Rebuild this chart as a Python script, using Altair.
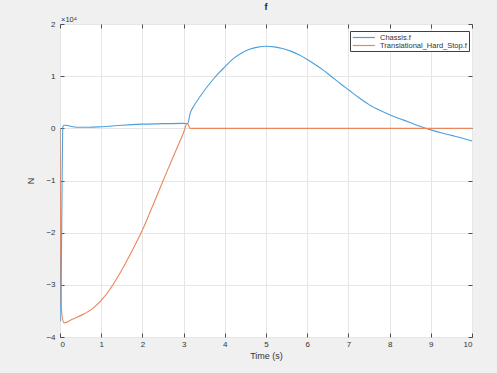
import altair as alt
import pandas as pd

# Values in units of 1e4 N (axis shows x10^4)
t_chassis = [0, 0.015, 0.07, 0.1, 0.15, 0.25, 0.4, 0.7, 1.0, 1.5, 2.0, 2.5, 3.0, 3.1,
             3.16, 3.25, 3.4, 3.55, 3.7, 3.85, 4.0, 4.2, 4.4, 4.6, 4.8, 5.0, 5.2, 5.4,
             5.6, 5.8, 6.0, 6.2, 6.4, 6.6, 6.8, 7.0, 7.25, 7.5, 7.75, 8.0, 8.25, 8.5,
             8.75, 9.0, 9.25, 9.5, 9.75, 10]
f_chassis = [0, -3.70, 0.03, 0.06, 0.06, 0.04, 0.02, 0.02, 0.03, 0.06, 0.08, 0.09, 0.095, 0.09,
             0.29, 0.43, 0.61, 0.773, 0.922, 1.056, 1.176, 1.33, 1.44, 1.515, 1.557, 1.574, 1.562, 1.53,
             1.48, 1.41, 1.32, 1.22, 1.11, 0.985, 0.86, 0.74, 0.59, 0.455, 0.35, 0.26, 0.185, 0.11,
             0.035, -0.03, -0.085, -0.135, -0.185, -0.24]

t_stop = [0, 0.01, 0.03, 0.05, 0.1, 0.3, 0.6, 0.8, 1.0, 1.2, 1.4, 1.6, 1.8, 2.0, 2.2,
          2.4, 2.6, 2.8, 3.0, 3.09, 3.16, 10]
f_stop = [0, -1.5, -3.3, -3.6, -3.73, -3.66, -3.55, -3.45, -3.3, -3.1, -2.85, -2.57, -2.27,
          -1.95, -1.58, -1.2, -0.82, -0.45, -0.08, 0.1, 0, 0]

series_names = ["Chassis.f", "Translational_Hard_Stop.f"]
series_colors = ["#4c9fdc", "#ea865c"]
x_ticks = [0, 1, 2, 3, 4, 5, 6, 7, 8, 9, 10]
y_ticks = [-4, -3, -2, -1, 0, 1, 2]

rows = []
for i, (t, f) in enumerate(zip(t_chassis, f_chassis)):
    rows.append({"series": series_names[0], "t": t, "f": f, "i": i})
for i, (t, f) in enumerate(zip(t_stop, f_stop)):
    rows.append({"series": series_names[1], "t": t, "f": f, "i": i})
df = pd.DataFrame(rows)

FONT = "Liberation Sans"
TXT = "#333333"

xscale = alt.Scale(domain=[0, 10], nice=False, zero=False)
yscale = alt.Scale(domain=[-4, 2], nice=False, zero=False)

lines = alt.Chart(df).mark_line(strokeWidth=1.1, clip=True, interpolate="monotone").encode(
    x=alt.X("t:Q", scale=xscale,
            axis=alt.Axis(title="Time (s)", values=x_ticks, orient="bottom", offset=-4,
                          tickSize=4, tickColor="#4d4d4d", domain=False, grid=True,
                          gridColor="#e6e6e6", labelPadding=3, titlePadding=3,
                          labelFontSize=8, titleFontSize=9, labelColor=TXT, titleColor=TXT,
                          titleFontWeight="normal", labelFont=FONT, titleFont=FONT)),
    y=alt.Y("f:Q", scale=yscale,
            axis=alt.Axis(title="N", values=y_ticks, orient="left", offset=-4,
                          tickSize=4, tickColor="#4d4d4d", domain=False, grid=True,
                          gridColor="#e6e6e6", labelPadding=5, titlePadding=10,
                          labelFontSize=8, titleFontSize=9, labelColor=TXT, titleColor=TXT,
                          titleFontWeight="normal", labelFont=FONT, titleFont=FONT)),
    color=alt.Color("series:N", scale=alt.Scale(domain=series_names, range=series_colors),
                    legend=alt.Legend(title=None, orient="none", legendX=290, legendY=7,
                                      padding=2, rowPadding=0, fillColor="white",
                                      strokeColor="#404040", symbolType="M-1,0H5",
                                      symbolSize=54, symbolStrokeWidth=1.2,
                                      labelOffset=19, labelFontSize=7.5, labelFont=FONT,
                                      labelColor=TXT)),
    order="i:Q",
)

frame_axes = alt.Chart(df).mark_line(opacity=0).encode(
    x=alt.X("t:Q", scale=xscale,
            axis=alt.Axis(title=None, values=x_ticks, orient="top", offset=-4, tickSize=4,
                          tickColor="#4d4d4d", domain=False, grid=False, labels=False)),
    y=alt.Y("f:Q", scale=yscale,
            axis=alt.Axis(title=None, values=y_ticks, orient="right", offset=-4, tickSize=4,
                          tickColor="#4d4d4d", domain=False, grid=False, labels=False)),
    detail="series:N",
)

exp_label = alt.Chart(pd.DataFrame({"lab": ["×10⁴"]})).mark_text(
    align="left", baseline="middle", fontSize=7.5, font=FONT, color=TXT
).encode(text="lab:N", x=alt.value(1), y=alt.value(-4))

chart = alt.layer(lines, frame_axes, exp_label).resolve_axis(
    x="independent", y="independent"
).properties(
    width=412, height=313,
    title=alt.Title("f", fontSize=9, fontWeight="bold", font=FONT, color="#222222", offset=4),
    autosize=alt.AutoSizeParams(type="none"),
    padding={"left": 60, "top": 24, "right": 25, "bottom": 36},
    background="#f0f0f0",
).configure_view(fill="white", stroke="#4d4d4d", strokeWidth=1)

chart.save("out.html", embed_options={"renderer": "svg", "actions": False})
